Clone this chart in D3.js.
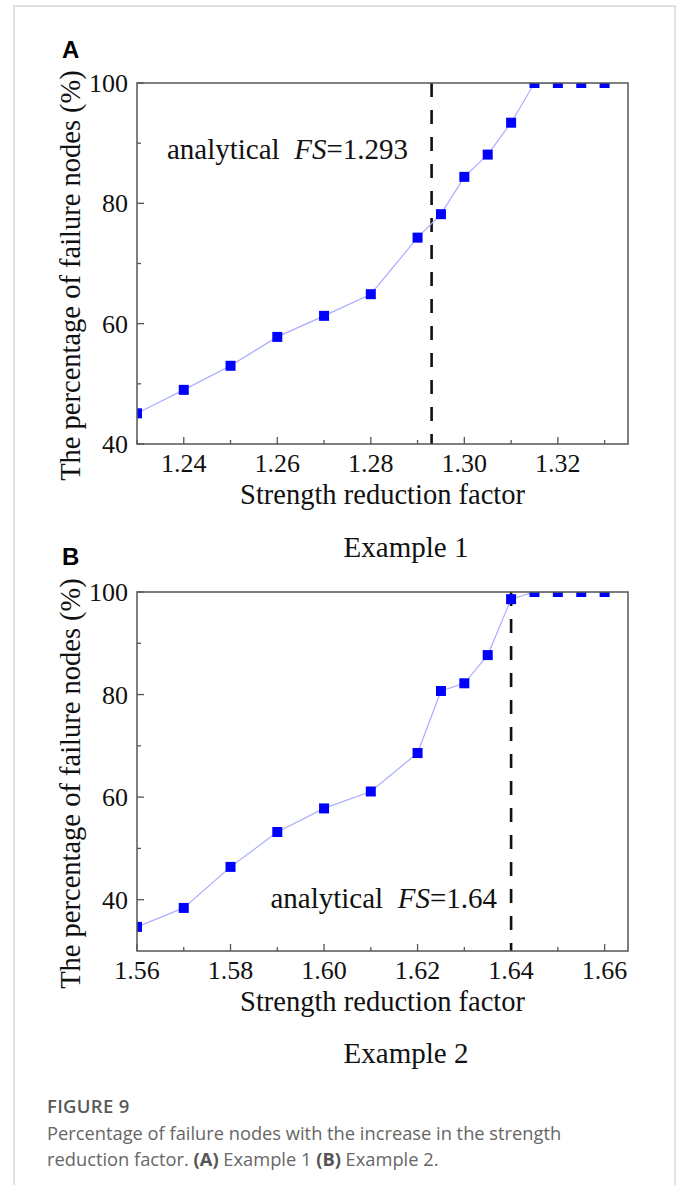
<!DOCTYPE html>
<html>
<head>
<meta charset="utf-8">
<script src="https://cdn.jsdelivr.net/npm/d3@7"></script>
<style>
  html, body { margin: 0; padding: 0; background: #fff; }
  svg { display: block; }
</style>
</head>
<body>
<div id="chart"></div>
<script>
// ---- data ----
const factorA = [1.23, 1.24, 1.25, 1.26, 1.27, 1.28, 1.29, 1.295, 1.30, 1.305, 1.31, 1.315, 1.32, 1.325, 1.33];
const failA   = [45.1, 49.0, 53.0, 57.8, 61.3, 64.9, 74.3, 78.2, 84.4, 88.1, 93.4, 100, 100, 100, 100];
const factorB = [1.56, 1.57, 1.58, 1.59, 1.60, 1.61, 1.62, 1.625, 1.63, 1.635, 1.64, 1.645, 1.65, 1.655, 1.66];
const failB   = [34.7, 38.4, 46.4, 53.2, 57.8, 61.1, 68.6, 80.7, 82.2, 87.7, 98.6, 100, 100, 100, 100];
const xTicksA = [1.24, 1.26, 1.28, 1.30, 1.32];
const xTicksB = [1.56, 1.58, 1.60, 1.62, 1.64, 1.66];
const yTicks  = [40, 60, 80, 100];
const fsA = 1.293;
const fsB = 1.64;

const W = 681, H = 1185;
const serif = "'Liberation Serif', 'Times New Roman', serif";

const svg = d3.select("#chart").append("svg")
  .attr("width", W).attr("height", H);

// light page frame
svg.append("rect")
  .attr("x", 14).attr("y", 6).attr("width", 661).attr("height", H + 20)
  .attr("fill", "none").attr("stroke", "#d6d6d6").attr("stroke-width", 1.5);

function drawPanel(opt) {
  const left = 137, right = 628;
  const x = d3.scaleLinear().domain(opt.xDomain).range([left, right]);
  const y = d3.scaleLinear().domain(opt.yDomain).range([opt.bottom, opt.top]);
  const g = svg.append("g");

  const clipId = "clip" + opt.letter;
  svg.append("clipPath").attr("id", clipId)
    .append("rect")
    .attr("x", left).attr("y", opt.top)
    .attr("width", right - left).attr("height", opt.bottom - opt.top);

  // ticks pointing inward
  const xMinor = d3.range(opt.xDomain[0], opt.xDomain[1] + 1e-9, 0.01)
    .map(v => +v.toFixed(3));
  g.selectAll(".xt").data(xMinor).enter().append("line")
    .attr("x1", d => x(d)).attr("x2", d => x(d))
    .attr("y1", opt.bottom)
    .attr("y2", d => opt.bottom - (opt.xTicks.some(t => Math.abs(t - d) < 1e-6) ? 7 : 4))
    .attr("stroke", "#555").attr("stroke-width", 1.3);

  const yMinor = d3.range(40, 101, 10);
  g.selectAll(".yt").data(yMinor).enter().append("line")
    .attr("x1", left)
    .attr("x2", d => left + (d % 20 === 0 ? 7 : 4))
    .attr("y1", d => y(d)).attr("y2", d => y(d))
    .attr("stroke", "#555").attr("stroke-width", 1.3);

  // tick labels
  g.selectAll(".xl").data(opt.xTicks).enter().append("text")
    .attr("x", d => x(d)).attr("y", opt.bottom + 28)
    .attr("text-anchor", "middle")
    .attr("font-family", serif).attr("font-size", 26).attr("fill", "#111")
    .text(d => d.toFixed(2));
  g.selectAll(".yl").data(yTicks).enter().append("text")
    .attr("x", left - 9).attr("y", d => y(d) + 9)
    .attr("text-anchor", "end")
    .attr("font-family", serif).attr("font-size", 26).attr("fill", "#111")
    .text(d => d);

  // dashed analytical FS line
  g.append("line")
    .attr("x1", x(opt.fs)).attr("x2", x(opt.fs))
    .attr("y1", opt.top).attr("y2", opt.bottom)
    .attr("stroke", "#111").attr("stroke-width", 2.6)
    .attr("stroke-dasharray", "14,13");

  // series
  const pts = opt.xs.map((v, i) => [v, opt.ys[i]]);
  const plot = g.append("g").attr("clip-path", "url(#" + clipId + ")");
  plot.append("path")
    .datum(pts)
    .attr("d", d3.line().x(d => x(d[0])).y(d => y(d[1])))
    .attr("fill", "none").attr("stroke", "#a9adff").attr("stroke-width", 1.2);
  const s = 10;
  plot.selectAll("rect").data(pts).enter().append("rect")
    .attr("x", d => x(d[0]) - s / 2).attr("y", d => y(d[1]) - s / 2)
    .attr("width", s).attr("height", s)
    .attr("fill", "#0000ff");

  // frame
  g.append("rect")
    .attr("x", left).attr("y", opt.top)
    .attr("width", right - left).attr("height", opt.bottom - opt.top)
    .attr("fill", "none").attr("stroke", "#555").attr("stroke-width", 1.5);

  // annotation
  const ann = g.append("text")
    .attr("x", opt.annX).attr("y", opt.annY)
    .attr("text-anchor", "end")
    .attr("font-family", serif).attr("font-size", 29).attr("fill", "#111");
  ann.append("tspan").text("analytical\u00a0\u00a0");
  ann.append("tspan").attr("font-style", "italic").text("FS");
  ann.append("tspan").text("=" + opt.fsLabel);

  // axis titles
  g.append("text")
    .attr("x", (left + right) / 2).attr("y", opt.bottom + 60)
    .attr("text-anchor", "middle")
    .attr("font-family", serif).attr("font-size", 28.5).attr("fill", "#111")
    .text("Strength reduction factor");
  g.append("text")
    .attr("transform", "translate(80," + ((opt.top + opt.bottom) / 2 + 12) + ") rotate(-90)")
    .attr("text-anchor", "middle")
    .attr("font-family", serif).attr("font-size", 28.5).attr("fill", "#111")
    .text("The percentage of failure nodes (%)");

  // example caption below
  g.append("text")
    .attr("x", 406).attr("y", opt.exampleY)
    .attr("text-anchor", "middle")
    .attr("font-family", serif).attr("font-size", 29).attr("fill", "#111")
    .text(opt.example);

  // panel letter
  g.append("text")
    .attr("x", 62).attr("y", opt.letterY)
    .attr("font-family", "'Liberation Sans', Arial, sans-serif")
    .attr("font-weight", "bold").attr("font-size", 24).attr("fill", "#000")
    .text(opt.letter);
}

drawPanel({
  letter: "A", letterY: 58,
  xs: factorA, ys: failA, xTicks: xTicksA,
  xDomain: [1.23, 1.335], yDomain: [40, 100],
  top: 83, bottom: 444,
  fs: fsA, fsLabel: "1.293", annX: 408, annY: 159,
  example: "Example 1", exampleY: 557
});

drawPanel({
  letter: "B", letterY: 565,
  xs: factorB, ys: failB, xTicks: xTicksB,
  xDomain: [1.56, 1.665], yDomain: [30, 100],
  top: 592, bottom: 951,
  fs: fsB, fsLabel: "1.64", annX: 497, annY: 908,
  example: "Example 2", exampleY: 1063
});

// figure caption
const cap = svg.append("g").attr("font-family", "'Open Sans', 'Noto Sans', sans-serif");
cap.append("text")
  .attr("x", 47).attr("y", 1113)
  .attr("font-size", 18.5).attr("font-weight", 600).attr("fill", "#5a5a5a")
  .attr("letter-spacing", 0.3)
  .text("FIGURE 9");
cap.append("text")
  .attr("x", 47).attr("y", 1140)
  .attr("font-size", 18.3).attr("fill", "#666")
  .text("Percentage of failure nodes with the increase in the strength");
const l2 = cap.append("text")
  .attr("x", 47).attr("y", 1166)
  .attr("font-size", 18.3).attr("fill", "#666");
l2.append("tspan").text("reduction factor. ");
l2.append("tspan").attr("font-weight", 700).attr("fill", "#555").text("(A)");
l2.append("tspan").text(" Example 1 ");
l2.append("tspan").attr("font-weight", 700).attr("fill", "#555").text("(B)");
l2.append("tspan").text(" Example 2.");
</script>
</body>
</html>
